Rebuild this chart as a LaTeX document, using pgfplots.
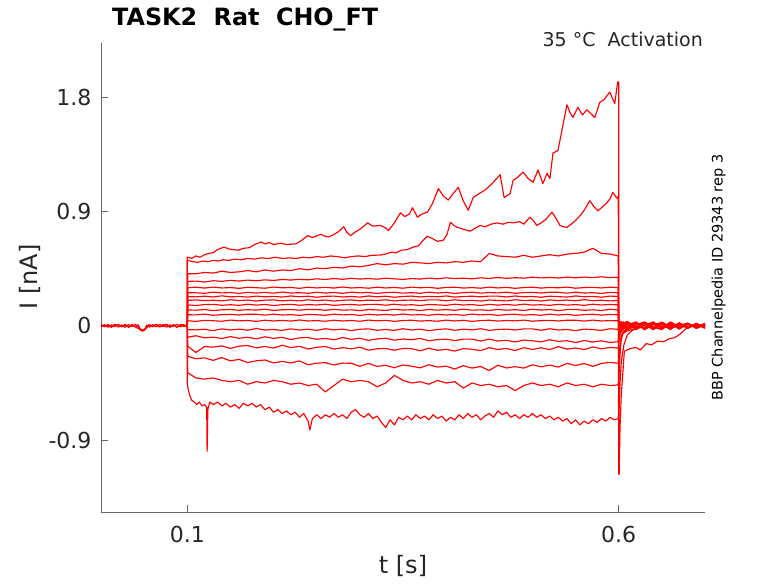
\documentclass[border=0pt]{standalone}
\usepackage{fontspec}
\setmainfont{DejaVu Sans}
\usepackage{pgfplots}
\pgfplotsset{compat=1.18}
\usepackage{pgfplotstable}
\definecolor{axgray}{RGB}{38,38,38}
\definecolor{tracered}{RGB}{255,0,0}
\pgfplotsset{tr/.style={draw=tracered, line width=1.15pt, line join=round, mark=none}}

\pgfplotstableread{
t c3 c4 c5 c6 c7 c8 c9 c10 c11 c12 c13 c14 c15 c16 c17
0.1 0 0 0 0 0 0 0 0 0 0 0 0 0 0 0
0.1005 0.41 0.35 0.30 0.26 0.23 0.20 0.165 0.125 0.087 0.04 -0.03 -0.09 -0.16 -0.24 -0.37
0.11 0.41 0.352 0.304 0.260 0.228 0.204 0.160 0.123 0.086 0.035 -0.032 -0.078 -0.210 -0.259 -0.41
0.12 0.42 0.345 0.297 0.256 0.233 0.198 0.167 0.128 0.092 0.043 -0.027 -0.095 -0.163 -0.252 -0.42
0.13 0.415 0.355 0.305 0.265 0.227 0.202 0.169 0.120 0.083 0.040 -0.038 -0.089 -0.168 -0.272 -0.41
0.14 0.43 0.35 0.298 0.259 0.236 0.196 0.162 0.126 0.088 0.036 -0.024 -0.100 -0.158 -0.250 -0.43
0.15 0.42 0.358 0.301 0.262 0.228 0.205 0.166 0.129 0.090 0.045 -0.033 -0.085 -0.178 -0.276 -0.44
0.16 0.425 0.352 0.295 0.255 0.231 0.199 0.161 0.122 0.085 0.039 -0.026 -0.098 -0.160 -0.264 -0.43
0.17 0.435 0.36 0.303 0.264 0.226 0.203 0.170 0.127 0.091 0.042 -0.035 -0.090 -0.155 -0.290 -0.46
0.18 0.425 0.355 0.300 0.258 0.234 0.195 0.163 0.124 0.091 0.035 -0.021 -0.103 -0.173 -0.275 -0.44
0.19 0.44 0.362 0.296 0.263 0.228 0.202 0.168 0.130 0.084 0.044 -0.033 -0.086 -0.163 -0.269 -0.45
0.20 0.43 0.357 0.305 0.257 0.232 0.204 0.160 0.121 0.092 0.038 -0.029 -0.099 -0.175 -0.292 -0.43
0.21 0.44 0.365 0.299 0.266 0.226 0.197 0.166 0.126 0.085 0.043 -0.036 -0.091 -0.153 -0.280 -0.44
0.22 0.435 0.36 0.302 0.258 0.235 0.201 0.169 0.128 0.088 0.037 -0.024 -0.108 -0.172 -0.292 -0.46
0.23 0.45 0.366 0.295 0.261 0.229 0.196 0.162 0.123 0.082 0.046 -0.033 -0.095 -0.161 -0.276 -0.45
0.24 0.44 0.362 0.304 0.256 0.233 0.205 0.167 0.129 0.090 0.038 -0.027 -0.092 -0.183 -0.306 -0.47
0.25 0.455 0.37 0.298 0.264 0.225 0.198 0.164 0.129 0.087 0.041 -0.036 -0.106 -0.169 -0.294 -0.46
0.26 0.45 0.365 0.303 0.258 0.232 0.203 0.170 0.122 0.083 0.036 -0.023 -0.099 -0.163 -0.290 -0.52
0.27 0.46 0.372 0.297 0.262 0.234 0.195 0.161 0.130 0.092 0.044 -0.032 -0.110 -0.183 -0.308 -0.47
0.28 0.455 0.366 0.306 0.256 0.227 0.201 0.166 0.123 0.086 0.038 -0.026 -0.092 -0.172 -0.293 -0.42
0.29 0.47 0.374 0.298 0.265 0.231 0.204 0.168 0.126 0.089 0.042 -0.038 -0.107 -0.181 -0.295 -0.44
0.30 0.465 0.368 0.301 0.259 0.226 0.197 0.163 0.120 0.082 0.036 -0.027 -0.098 -0.168 -0.319 -0.43
0.31 0.475 0.372 0.296 0.263 0.235 0.202 0.169 0.128 0.091 0.045 -0.024 -0.115 -0.192 -0.296 -0.44
0.32 0.49 0.367 0.304 0.255 0.228 0.199 0.169 0.125 0.085 0.039 -0.035 -0.103 -0.181 -0.319 -0.48
0.33 0.48 0.375 0.298 0.262 0.233 0.205 0.162 0.121 0.090 0.043 -0.029 -0.098 -0.178 -0.311 -0.45
0.34 0.49 0.37 0.302 0.264 0.225 0.196 0.170 0.130 0.084 0.035 -0.036 -0.113 -0.192 -0.330 -0.39
0.35 0.485 0.365 0.296 0.257 0.231 0.201 0.163 0.124 0.093 0.042 -0.023 -0.104 -0.178 -0.308 -0.43
0.36 0.50 0.372 0.305 0.261 0.234 0.203 0.166 0.127 0.085 0.044 -0.033 -0.110 -0.180 -0.318 -0.45
0.37 0.495 0.368 0.299 0.256 0.227 0.198 0.160 0.120 0.088 0.037 -0.026 -0.099 -0.197 -0.331 -0.44
0.38 0.49 0.376 0.303 0.265 0.232 0.204 0.168 0.129 0.083 0.041 -0.038 -0.118 -0.176 -0.306 -0.46
0.39 0.50 0.37 0.295 0.258 0.229 0.204 0.165 0.123 0.091 0.036 -0.029 -0.108 -0.193 -0.325 -0.43
0.40 0.495 0.378 0.302 0.263 0.235 0.197 0.161 0.128 0.085 0.045 -0.024 -0.105 -0.185 -0.317 -0.45
0.41 0.505 0.372 0.304 0.255 0.226 0.205 0.170 0.122 0.089 0.038 -0.035 -0.116 -0.199 -0.340 -0.44
0.42 0.50 0.375 0.297 0.261 0.231 0.198 0.164 0.131 0.083 0.043 -0.027 -0.105 -0.179 -0.314 -0.49
0.43 0.51 0.37 0.301 0.264 0.233 0.201 0.167 0.123 0.092 0.035 -0.032 -0.105 -0.185 -0.333 -0.45
0.44 0.505 0.378 0.296 0.257 0.228 0.195 0.160 0.126 0.086 0.041 -0.023 -0.120 -0.195 -0.320 -0.47
0.45 0.57 0.373 0.305 0.262 0.234 0.203 0.169 0.121 0.090 0.044 -0.036 -0.105 -0.172 -0.352 -0.46
0.46 0.55 0.38 0.298 0.259 0.234 0.200 0.163 0.129 0.082 0.037 -0.029 -0.120 -0.186 -0.310 -0.48
0.47 0.545 0.374 0.303 0.265 0.227 0.196 0.168 0.123 0.089 0.042 -0.026 -0.114 -0.178 -0.332 -0.47
0.48 0.54 0.379 0.295 0.256 0.235 0.205 0.162 0.127 0.091 0.039 -0.033 -0.127 -0.195 -0.321 -0.51
0.49 0.555 0.375 0.301 0.261 0.228 0.199 0.171 0.121 0.084 0.045 -0.024 -0.112 -0.172 -0.333 -0.47
0.50 0.54 0.383 0.304 0.263 0.231 0.202 0.163 0.130 0.088 0.036 -0.024 -0.118 -0.186 -0.307 -0.45
0.51 0.55 0.377 0.297 0.258 0.225 0.195 0.166 0.124 0.083 0.041 -0.035 -0.127 -0.173 -0.323 -0.47
0.52 0.56 0.381 0.302 0.264 0.233 0.204 0.161 0.128 0.092 0.043 -0.023 -0.110 -0.187 -0.309 -0.46
0.53 0.55 0.376 0.299 0.264 0.230 0.198 0.169 0.120 0.085 0.038 -0.033 -0.123 -0.164 -0.325 -0.48
0.54 0.565 0.383 0.305 0.257 0.226 0.203 0.163 0.127 0.090 0.044 -0.029 -0.117 -0.183 -0.296 -0.45
0.55 0.57 0.378 0.296 0.265 0.235 0.197 0.167 0.129 0.082 0.044 -0.038 -0.132 -0.175 -0.312 -0.47
0.56 0.58 0.384 0.301 0.258 0.229 0.206 0.161 0.122 0.088 0.037 -0.026 -0.115 -0.187 -0.297 -0.46
0.57 0.61 0.379 0.303 0.261 0.232 0.198 0.170 0.126 0.091 0.045 -0.030 -0.128 -0.166 -0.319 -0.48
0.58 0.57 0.386 0.298 0.255 0.225 0.201 0.164 0.121 0.084 0.038 -0.036 -0.118 -0.181 -0.296 -0.46
0.59 0.565 0.38 0.304 0.263 0.234 0.196 0.168 0.130 0.089 0.041 -0.023 -0.131 -0.170 -0.288 -0.47
0.5995 0.55 0.383 0.301 0.260 0.231 0.200 0.165 0.125 0.087 0.040 -0.028 -0.125 -0.176 -0.295 -0.465
0.6 -0.35 -0.12 -0.05 -0.03 0.03 -0.02 0.02 -0.04 0.03 -0.02 0.01 -0.03 -0.05 -0.10 -0.25
0.6025 -0.12 -0.04 0.02 -0.03 0.025 -0.01 0.03 -0.02 0.01 0.035 -0.03 0.02 -0.04 -0.05 -0.10
0.605 -0.06 0.01 -0.02 0.03 -0.01 0.025 -0.03 0.02 -0.025 0.0 0.03 -0.02 0.01 -0.03 -0.05
0.61 -0.04 -0.02 0.03 -0.015 0.02 -0.03 0.01 0.035 -0.01 -0.03 0.02 0.03 -0.02 0.01 -0.03
0.62 -0.02 0.025 -0.01 0.02 -0.03 0.01 0.03 -0.02 0.025 0.01 -0.025 -0.01 0.03 -0.02 0.0
0.63 0.02 -0.03 0.025 -0.02 0.01 0.03 -0.02 0.01 -0.03 0.025 0.005 0.02 -0.03 0.03 -0.02
0.64 -0.025 0.015 -0.03 0.03 -0.02 -0.01 0.02 -0.03 0.015 -0.02 0.03 -0.025 0.01 -0.01 0.025
0.65 0.015 -0.02 0.02 -0.01 0.025 -0.025 -0.01 0.025 -0.02 0.03 -0.02 0.01 0.025 -0.03 -0.01
0.66 -0.01 0.03 -0.015 0.02 -0.025 0.02 0.025 -0.015 0.03 -0.01 0.015 -0.03 -0.015 0.02 0.01
0.67 0.02 -0.01 0.015 -0.025 0.01 -0.015 -0.025 0.02 -0.01 0.02 -0.015 0.025 0.005 -0.02 -0.02
0.68 -0.015 0.02 -0.02 0.015 -0.01 0.02 0.015 -0.02 0.02 -0.015 0.02 -0.015 0.02 0.01 0.015
0.69 0.01 -0.015 0.01 -0.01 0.02 -0.02 -0.01 0.015 -0.015 0.01 -0.01 0.015 -0.02 -0.01 -0.01
0.70 -0.01 0.01 -0.005 0.01 -0.015 0.01 0.02 -0.01 0.01 -0.02 0.015 -0.01 0.01 0.015 0.005
}\steps

\pgfplotstableread{
t v
0.1 0
0.1 0.54
0.1012 0.54
0.105 0.53
0.11 0.55
0.115 0.54
0.12 0.56
0.125 0.57
0.13 0.575
0.135 0.60
0.1427 0.62
0.148 0.605
0.1589 0.595
0.165 0.61
0.172 0.615
0.178 0.64
0.1855 0.66
0.19 0.645
0.195 0.655
0.2 0.64
0.2085 0.65
0.215 0.64
0.2259 0.645
0.232 0.67
0.2397 0.71
0.245 0.695
0.2547 0.72
0.26 0.705
0.264 0.70
0.27 0.72
0.275 0.74
0.2813 0.78
0.285 0.735
0.2894 0.71
0.295 0.74
0.30 0.76
0.309 0.81
0.315 0.785
0.324 0.79
0.33 0.77
0.3333 0.75
0.34 0.81
0.3471 0.89
0.352 0.86
0.3575 0.88
0.361 0.93
0.3667 0.855
0.372 0.88
0.3783 0.895
0.384 0.96
0.391 1.08
0.397 1.02
0.4025 0.99
0.408 1.04
0.4141 1.09
0.42 0.98
0.4256 0.91
0.4314 1.01
0.438 1.04
0.4453 1.07
0.452 1.11
0.4626 1.19
0.4672 1.01
0.4741 1.04
0.4776 1.145
0.483 1.17
0.4891 1.21
0.495 1.16
0.5007 1.13
0.5065 1.226
0.5122 1.12
0.5169 1.20
0.5203 1.16
0.5238 1.36
0.5296 1.38
0.5342 1.54
0.54 1.74
0.5435 1.68
0.5469 1.64
0.5527 1.72
0.558 1.66
0.563 1.70
0.5723 1.64
0.5781 1.76
0.583 1.78
0.5896 1.84
0.5954 1.75
0.5988 1.92
0.6 1.92
0.6 -1.17
0.6005 -1.17
0.6015 -0.80
0.603 -0.54
0.605 -0.35
0.6065 -0.20
0.613 -0.18
0.62 -0.17
0.625 -0.19
0.632 -0.14
0.638 -0.15
0.645 -0.12
0.652 -0.125
0.659 -0.10
0.664 -0.095
0.668 -0.08
0.672 -0.06
0.675 -0.04
0.68 -0.01
0.69 0.005
0.70 0.0
}\trA

\pgfplotstableread{
t v
0.1 0
0.1 0.51
0.101 0.515
0.106 0.505
0.112 0.50
0.118 0.51
0.124 0.505
0.13 0.515
0.136 0.51
0.142 0.52
0.148 0.515
0.155 0.525
0.162 0.52
0.17 0.53
0.178 0.525
0.186 0.535
0.194 0.53
0.202 0.54
0.21 0.53
0.218 0.535
0.226 0.53
0.234 0.54
0.242 0.535
0.25 0.545
0.258 0.54
0.266 0.55
0.274 0.545
0.282 0.535
0.29 0.545
0.298 0.55
0.306 0.545
0.314 0.555
0.324 0.557
0.33 0.565
0.336 0.58
0.342 0.575
0.348 0.595
0.355 0.60
0.362 0.62
0.368 0.63
0.373 0.67
0.378 0.705
0.383 0.69
0.39 0.665
0.397 0.675
0.401 0.72
0.405 0.815
0.409 0.79
0.413 0.775
0.42 0.76
0.428 0.745
0.434 0.77
0.4395 0.79
0.445 0.78
0.452 0.80
0.459 0.81
0.466 0.80
0.472 0.815
0.478 0.81
0.485 0.82
0.49 0.80
0.497 0.855
0.501 0.83
0.505 0.79
0.51 0.81
0.516 0.84
0.5226 0.895
0.527 0.85
0.5319 0.79
0.536 0.78
0.54 0.775
0.545 0.80
0.55 0.83
0.555 0.865
0.56 0.91
0.5665 0.985
0.571 0.94
0.5758 0.905
0.58 0.93
0.585 0.96
0.59 1.00
0.5931 1.05
0.5977 1.005
0.5995 1.02
0.6 -0.75
0.6015 -0.45
0.603 -0.28
0.606 -0.15
0.61 -0.07
0.615 -0.04
0.62 -0.02
0.63 -0.01
0.64 0.01
0.65 -0.01
0.66 0.0
0.67 0.01
0.68 -0.005
0.69 0.005
0.70 0.0
}\trB

\pgfplotstableread{
t v
0.1 0
0.1 -0.45
0.101 -0.50
0.103 -0.55
0.105 -0.585
0.108 -0.60
0.111 -0.62
0.114 -0.60
0.117 -0.63
0.120 -0.62
0.1225 -0.64
0.123 -0.99
0.1238 -0.66
0.126 -0.60
0.13 -0.62
0.135 -0.60
0.14 -0.63
0.145 -0.61
0.15 -0.64
0.155 -0.62
0.16 -0.65
0.165 -0.61
0.17 -0.63
0.175 -0.61
0.18 -0.64
0.185 -0.62
0.19 -0.66
0.195 -0.64
0.20 -0.68
0.205 -0.66
0.21 -0.69
0.215 -0.67
0.22 -0.70
0.225 -0.68
0.23 -0.72
0.235 -0.69
0.24 -0.75
0.242 -0.82
0.245 -0.73
0.25 -0.70
0.255 -0.73
0.26 -0.70
0.265 -0.72
0.27 -0.69
0.275 -0.72
0.28 -0.70
0.285 -0.73
0.29 -0.68
0.295 -0.66
0.30 -0.70
0.305 -0.72
0.31 -0.69
0.315 -0.73
0.32 -0.71
0.325 -0.76
0.33 -0.80
0.335 -0.74
0.34 -0.78
0.345 -0.72
0.35 -0.74
0.355 -0.71
0.36 -0.74
0.365 -0.70
0.37 -0.73
0.375 -0.71
0.38 -0.74
0.385 -0.70
0.39 -0.73
0.395 -0.71
0.40 -0.75
0.405 -0.72
0.41 -0.74
0.415 -0.70
0.42 -0.73
0.425 -0.69
0.43 -0.72
0.435 -0.70
0.44 -0.74
0.445 -0.71
0.45 -0.69
0.455 -0.72
0.46 -0.67
0.465 -0.70
0.47 -0.68
0.475 -0.72
0.48 -0.70
0.485 -0.73
0.49 -0.70
0.495 -0.72
0.50 -0.69
0.505 -0.72
0.51 -0.70
0.515 -0.73
0.52 -0.71
0.525 -0.74
0.53 -0.72
0.535 -0.75
0.54 -0.73
0.545 -0.77
0.55 -0.74
0.555 -0.78
0.56 -0.75
0.565 -0.77
0.57 -0.74
0.575 -0.76
0.58 -0.73
0.585 -0.75
0.59 -0.72
0.595 -0.74
0.5995 -0.73
0.6 -0.45
0.6015 -0.20
0.603 -0.08
0.606 -0.04
0.61 -0.02
0.62 -0.01
0.63 0.005
0.64 -0.015
0.65 0.01
0.66 -0.005
0.67 0.01
0.68 -0.01
0.69 0.005
0.70 0.0
}\trR

\pgfplotstableread{
t a b c
0.000 0.005 -0.008 0.012
0.004 -0.008 0.009 -0.004
0.008 0.010 -0.011 0.006
0.012 -0.005 0.007 -0.012
0.016 0.012 -0.006 0.004
0.020 -0.010 0.012 0.010
0.024 0.006 -0.009 -0.006
0.028 -0.012 0.008 0.012
0.032 0.009 -0.012 -0.010
0.036 -0.004 0.010 0.005
0.040 0.011 -0.007 -0.010
0.043 -0.006 0.008 -0.020
0.045 -0.030 -0.020 -0.028
0.048 -0.042 -0.035 -0.040
0.051 -0.030 -0.022 -0.030
0.053 -0.008 0.006 -0.015
0.056 0.010 -0.011 0.007
0.060 -0.009 0.009 -0.006
0.064 0.012 -0.008 0.011
0.068 -0.006 0.012 -0.010
0.072 0.009 -0.006 0.004
0.076 -0.011 0.010 0.012
0.080 0.007 -0.012 -0.007
0.084 -0.004 0.007 0.009
0.088 0.012 -0.009 -0.012
0.092 -0.009 0.011 0.004
0.096 0.006 -0.006 0.010
0.0995 -0.005 0.004 -0.006
0.1 0 0 0
}\pre

\begin{document}
\begin{tikzpicture}
\path[use as bounding box] (0pt,0pt) rectangle (778pt,583pt);
\begin{axis}[
  at={(101pt,70.7pt)}, anchor=south west,
  scale only axis, width=604pt, height=469pt,
  xmin=0, xmax=0.7, ymin=-1.468, ymax=2.224,
  axis x line=bottom, axis y line=left,
  axis line style={-, draw=black!60, line width=0.6pt},
  xtick={0.1,0.6}, xticklabels={0.1,0.6},
  ytick={-0.9,0,0.9,1.8}, yticklabels={-0.9,0,0.9,1.8},
  tick align=inside, major tick length=7pt,
  tick style={black!60, line width=0.6pt},
  ticklabel style={font=\fontsize{22}{26}\selectfont, text=axgray},
  yticklabel style={xshift=-6pt},
  xticklabel style={yshift=-10pt},
]
\addplot[tr] table[x=t,y=a]{\pre};
\addplot[tr] table[x=t,y=b]{\pre};
\addplot[tr] table[x=t,y=c]{\pre};
\pgfplotsinvokeforeach{c3,c4,c5,c6,c7,c8,c9,c10,c11,c12,c13,c14,c15,c16,c17}{
  \addplot[tr] table[x=t,y=#1]{\steps};
}
\addplot[tr] table[x=t,y=v]{\trA};
\addplot[tr] table[x=t,y=v]{\trB};
\addplot[tr] table[x=t,y=v]{\trR};
\end{axis}
\node[anchor=base west, font=\fontsize{23.8}{28}\selectfont\bfseries, inner sep=0pt] at (112pt,557pt) {TASK2\ \ Rat\ \ CHO\_FT};
\node[anchor=base east, font=\fontsize{19}{23}\selectfont, inner sep=0pt, text=axgray] at (703pt,536.5pt) {35 °C\ \ Activation};
\node[anchor=base, font=\fontsize{24}{28}\selectfont, inner sep=0pt, text=axgray] at (403pt,10pt) {t [s]};
\node[anchor=base, rotate=90, font=\fontsize{24}{28}\selectfont, inner sep=0pt, text=axgray] at (37pt,306pt) {I [nA]};
\node[anchor=base, rotate=90, font=\fontsize{14.5}{17}\selectfont, inner sep=0pt] at (722.5pt,305.5pt) {BBP Channelpedia ID 29343 rep 3};
\end{tikzpicture}
\end{document}
